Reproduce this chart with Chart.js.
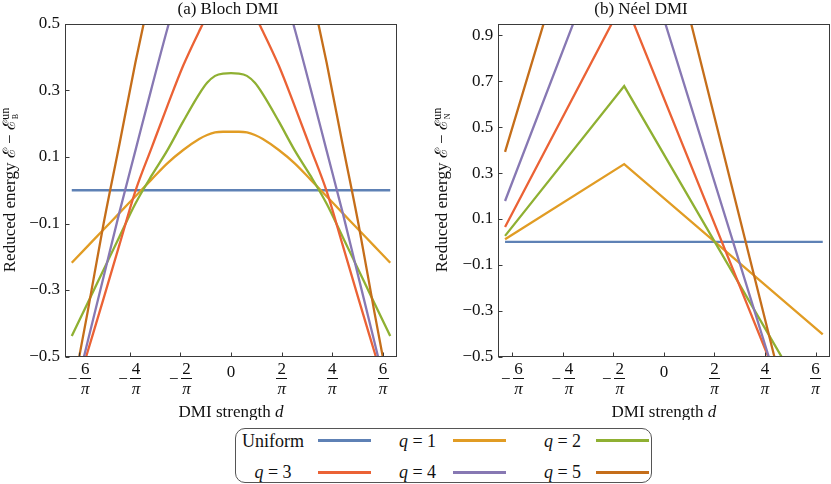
<!DOCTYPE html>
<html><head><meta charset="utf-8">
<script src="https://cdn.jsdelivr.net/npm/chart.js@4"></script>
<style>
html,body{margin:0;padding:0;background:#fff;}
body{width:831px;height:484px;position:relative;overflow:hidden;font-family:"Liberation Serif",serif;color:#111;}
canvas{position:absolute;top:0;}
#cA{left:0;} #cB{left:415px;}
#legend{position:absolute;left:235px;top:428px;width:417px;height:55px;border:1px solid #555;border-radius:10px;box-sizing:border-box;}
.lt{position:absolute;font-size:18px;line-height:18px;transform:translate(-50%,-50%);white-space:nowrap;}
.ll{position:absolute;height:2.5px;width:53px;}
</style></head><body>
<canvas id="cA" width="415" height="420"></canvas>
<canvas id="cB" width="416" height="420"></canvas>
<div id="legend"></div>
<script>
// ---------- data ----------
const seriesNames = ['Uniform','q = 1','q = 2','q = 3','q = 4','q = 5'];
const seriesColors = ['#5E81B5','#E19C24','#8FB032','#EB6235','#8778B3','#C56E1A'];

const xTickNumerators = [-6,-4,-2,0,2,4,6];          // ticks at n/π
const yTicksBloch = [-0.5,-0.3,-0.1,0.1,0.3,0.5];
const yTicksNeel  = [-0.5,-0.3,-0.1,0.1,0.3,0.5,0.7,0.9];

// (a) Bloch DMI
const dBloch = [-2.0,-1.8,-1.6,-1.4,-1.2,-1.0,-0.8,-0.6,-0.4,-0.3,-0.2,-0.1,0,0.1,0.2,0.3,0.4,0.6,0.8,1.0,1.2,1.4,1.6,1.8,2.0];
const blochUniform = [0,0,0,0,0,0,0,0,0,0,0,0,0,0,0,0,0,0,0,0,0,0,0,0,0];
const blochQ1 = [-0.218,-0.168,-0.118,-0.068,-0.018,0.032,0.081,0.121,0.154,0.166,0.174,0.176,0.176,0.176,0.174,0.166,0.154,0.121,0.081,0.032,-0.018,-0.068,-0.118,-0.168,-0.218];
const blochQ2 = [-0.438,-0.339,-0.239,-0.139,-0.040,0.043,0.120,0.207,0.289,0.323,0.344,0.351,0.352,0.351,0.344,0.323,0.289,0.207,0.120,0.043,-0.040,-0.139,-0.239,-0.339,-0.438];
const blochQ3 = [-0.645,-0.485,-0.325,-0.163,-0.002,0.126,0.253,0.375,0.478,0.525,0.560,0.582,0.588,0.582,0.560,0.525,0.478,0.375,0.253,0.126,-0.002,-0.163,-0.325,-0.485,-0.645];
const blochQ4 = [-0.650,-0.455,-0.260,-0.065,0.120,0.305,0.485,0.650,0.780,0.830,0.860,0.875,0.880,0.875,0.860,0.830,0.780,0.650,0.485,0.305,0.120,-0.065,-0.260,-0.455,-0.650];
const blochQ5 = [-0.620,-0.365,-0.100,0.140,0.385,0.610,0.820,1.000,1.130,1.170,1.200,1.215,1.220,1.215,1.200,1.170,1.130,1.000,0.820,0.610,0.385,0.140,-0.100,-0.365,-0.620];

// (b) Néel DMI
const dNeel = [-2.0,-0.5,2.0];
const neelUniform = [0,0,0];
const neelQ1 = [0.011,0.339,-0.404];
const neelQ2 = [0.026,0.679,-0.810];
const neelQ3 = [0.065,1.055,-1.090];
const neelQ4 = [0.178,1.530,-1.260];
const neelQ5 = [0.392,2.120,-1.345];

// ---------- helpers ----------
const FONT = '"Liberation Serif", "DejaVu Serif", serif';
function toXY(xs, ys){ return xs.map((x,i)=>({x:x, y:ys[i]})); }

function decorPlugin(p){
  return {
    id:'decor',
    afterDraw(chart){
      const ctx=chart.ctx, a=chart.chartArea, xs=chart.scales.x, ys=chart.scales.y;
      ctx.save();
      // frame
      ctx.strokeStyle='#3a3a3a'; ctx.lineWidth=1;
      const L=Math.round(a.left)+0.5, T=Math.round(a.top)+0.5, R=Math.round(a.right)-0.5, B=Math.round(a.bottom)-0.5;
      ctx.strokeRect(L,T,R-L,B-T);
      // inward tick marks
      ctx.beginPath();
      xTickNumerators.forEach(n=>{
        const px=Math.round(xs.getPixelForValue(n/Math.PI))+0.5;
        ctx.moveTo(px,B); ctx.lineTo(px,B-4);
      });
      p.yTicks.forEach(v=>{
        const py=Math.round(ys.getPixelForValue(v))+0.5;
        ctx.moveTo(L,py); ctx.lineTo(L+4,py);
      });
      ctx.stroke();
      // fraction tick labels
      ctx.fillStyle='#111';
      ctx.textAlign='center';
      xTickNumerators.forEach(n=>{
        const px=xs.getPixelForValue(n/Math.PI);
        ctx.font='17px '+FONT;
        ctx.textBaseline='alphabetic';
        if(n===0){ ctx.fillText('0',px,376.5); return; }
        const fx = n<0 ? px+6.3 : px;
        ctx.fillText(String(Math.abs(n)),fx,374);
        ctx.fillRect(Math.round(fx-5.5),378,11,1);
        ctx.font='italic 17px '+FONT;
        ctx.fillText('π',fx,393.5);
        if(n<0){ ctx.font='17px '+FONT; ctx.fillText('−',px-6.5,383.5); }
      });
      // panel title
      ctx.font='17px '+FONT; ctx.textBaseline='alphabetic'; ctx.textAlign='center';
      ctx.fillText(p.title,p.titleX,14);
      // x axis title
      const xt1='DMI strength ', xt2='d';
      ctx.font='17px '+FONT; const w1=ctx.measureText(xt1).width;
      ctx.font='italic 17px '+FONT; const w2=ctx.measureText(xt2).width;
      const cx=(a.left+a.right)/2, x0=cx-(w1+w2)/2;
      ctx.textAlign='left';
      ctx.font='17px '+FONT; ctx.fillText(xt1,x0,417);
      ctx.font='italic 17px '+FONT; ctx.fillText(xt2,x0+w1,417);
      // y axis title (rotated)
      ctx.save();
      ctx.translate(p.ylabX,(a.top+a.bottom)/2);
      ctx.rotate(-Math.PI/2);
      const main='Reduced energy ℰ − ℰ';
      ctx.font='17px '+FONT; const wm=ctx.measureText(main).width;
      ctx.font='12px '+FONT; const ws=ctx.measureText('un').width;
      const s0=-(wm+ws)/2;
      ctx.textAlign='left';
      ctx.font='17px '+FONT; ctx.fillText(main,s0,0);
      ctx.font='12px '+FONT; ctx.fillText('un',s0+wm+0.5,-6);
      ctx.font='8px '+FONT; ctx.fillText(p.sub,s0+wm+1,3);
      ctx.restore();
      ctx.restore();
    }
  };
}

function makePanel(id, p){
  const datasets = p.series.map((ys,i)=>({
    label: seriesNames[i],
    data: toXY(p.d, ys),
    borderColor: seriesColors[i],
    backgroundColor: seriesColors[i],
    borderWidth: 2.3,
    pointRadius: 0,
    fill: false,
    order: -i,
    cubicInterpolationMode: p.smooth ? 'monotone' : 'default',
    tension: 0
  }));
  return new Chart(document.getElementById(id), {
    type:'line',
    data:{datasets},
    options:{
      responsive:false, animation:false, devicePixelRatio:1,
      layout:{padding:{top:24,right:p.padRight,left:0,bottom:0}},
      plugins:{legend:{display:false},tooltip:{enabled:false},title:{display:false}},
      scales:{
        x:{type:'linear',min:-2.085,max:2.085,
           grid:{display:false,drawTicks:false},border:{display:false},
           ticks:{display:false},
           afterBuildTicks:s=>{ s.ticks=xTickNumerators.map(n=>({value:n/Math.PI})); },
           afterFit:s=>{ s.height=420-356.5; }},
        y:{type:'linear',min:-0.5,max:p.ymax,
           grid:{display:false,drawTicks:false},border:{display:false},
           ticks:{font:{family:'Liberation Serif',size:17},color:'#111',padding:5,autoSkip:false,
                  callback:v=>(v<0?'−':'')+Math.abs(v).toFixed(1)},
           afterBuildTicks:s=>{ s.ticks=p.yTicks.map(v=>({value:v})); },
           afterFit:s=>{ s.width=p.yAxisWidth; }}
      }
    },
    plugins:[decorPlugin(p)]
  });
}

makePanel('cA',{
  d:dBloch, series:[blochUniform,blochQ1,blochQ2,blochQ3,blochQ4,blochQ5], smooth:true,
  ymax:0.5, yTicks:yTicksBloch, yAxisWidth:65, padRight:18,
  title:'(a) Bloch DMI', titleX:228, ylabX:14.5, sub:'B'
});
makePanel('cB',{
  d:dNeel, series:[neelUniform,neelQ1,neelQ2,neelQ3,neelQ4,neelQ5], smooth:false,
  ymax:0.95, yTicks:yTicksNeel, yAxisWidth:83.3, padRight:1.5,
  title:'(b) Néel DMI', titleX:226, ylabX:32, sub:'N'
});

// ---------- legend (HTML) ----------
const lg=document.getElementById('legend');
const colText=[37,181.5,326.5], colLine=[82,217,360], rowY=[11.7,43.3], lineTop=[10,42];
seriesNames.forEach((name,i)=>{
  const r=Math.floor(i/3), c=i%3;
  const t=document.createElement('div'); t.className='lt';
  t.style.left=colText[c]+'px'; t.style.top=rowY[r]+'px';
  if(name.startsWith('q')){ t.innerHTML='<i>q</i>'+name.slice(1); } else { t.textContent=name; }
  lg.appendChild(t);
  const l=document.createElement('div'); l.className='ll';
  l.style.left=colLine[c]+'px'; l.style.top=lineTop[r]+'px'; l.style.background=seriesColors[i];
  lg.appendChild(l);
});
</script></body></html>
